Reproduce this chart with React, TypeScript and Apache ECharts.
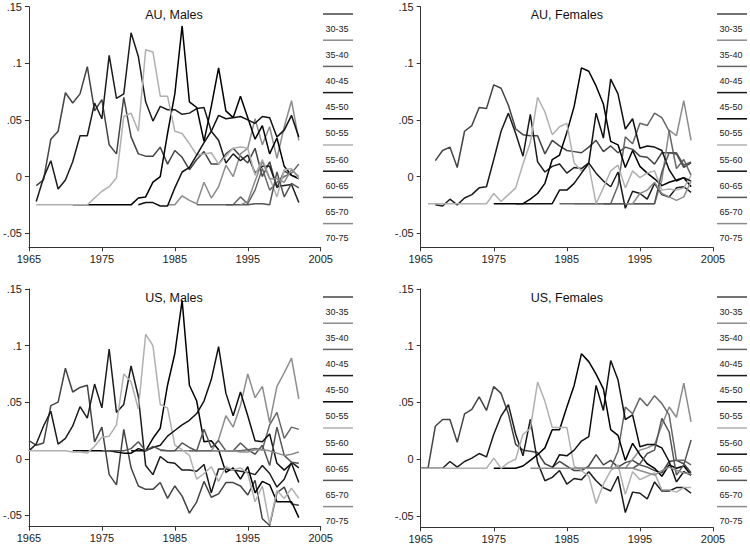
import { useEffect, useRef } from "react";
import * as echarts from "echarts";

// ---------- labels & styles ----------
const AGE_GROUPS = ["30-35", "35-40", "40-45", "45-50", "50-55", "55-60", "60-65", "65-70", "70-75"];
const LINE_COLORS = ["#444444", "#8c8c8c", "#666666", "#1c1c1c", "#000000", "#b0b0b0", "#111111", "#555555", "#8c8c8c"];
const PANEL_TITLES = ["AU, Males", "AU, Females", "US, Males", "US, Females"];
const X_MIN = 1965;
const X_MAX = 2005;
const X_STEP = 10;
const Y_TICKS = [-0.05, 0, 0.05, 0.1, 0.15];

// ---------- AU, Males (first year, then yearly values) ----------
const AUM_START = [1966, 1984, 1988, 1966, 1971, 1966, 1980, 1992, 1994];
const AUM_30_35 = [-0.008, -0.003, 0.033, 0.040, 0.074, 0.065, 0.073, 0.097, 0.058, 0.068, 0.028, 0.020, 0.070, 0.035, 0.020, 0.018, 0.018, 0.026, 0.011, 0.023, 0.017, 0.006, 0.015, 0.022, 0.011, 0.011, 0.020, 0.025, 0.018, 0.012, 0.025, 0.000, 0.013, -0.010, 0.005, 0.001, -0.001];
const AUM_35_40 = [-0.025, -0.025, -0.017, -0.021, -0.024, -0.005, -0.019, -0.009, 0.010, 0.000, 0.020, 0.025, 0.051, 0.028, 0.044, 0.016, 0.044, 0.067, 0.032];
const AUM_40_45 = [-0.025, -0.025, -0.025, -0.025, -0.025, -0.025, -0.018, -0.024, -0.012, 0.007, -0.012, -0.005, 0.000, 0.003, 0.011];
const AUM_45_50 = [-0.022, -0.001, 0.014, -0.011, -0.003, 0.013, 0.036, 0.036, 0.065, 0.051, 0.107, 0.069, 0.073, 0.127, 0.106, 0.066, 0.049, 0.062, 0.059, 0.059, 0.055, 0.056, 0.060, 0.061, 0.040, 0.032, 0.012, 0.020, 0.014, 0.019, 0.003, 0.009, 0.009, -0.009, -0.008, -0.007, -0.023];
const AUM_50_55 = [-0.025, -0.025, -0.025, -0.025, -0.025, -0.025, -0.025, -0.025, -0.025, -0.019, -0.018, -0.005, 0.000, 0.038, 0.073, 0.133, 0.066, 0.061, 0.031, 0.062, 0.096, 0.058, 0.052, 0.071, 0.052, 0.033, 0.045, 0.020, 0.034, 0.009, 0.001, -0.002];
const AUM_55_60 = [-0.025, -0.025, -0.025, -0.025, -0.025, -0.025, -0.025, -0.025, -0.019, -0.013, -0.009, -0.001, 0.053, 0.056, 0.040, 0.112, 0.110, 0.071, 0.071, 0.040, 0.038, 0.029, 0.019, 0.020, 0.021, 0.011, 0.018, 0.025, 0.026, 0.025, 0.001, 0.015, -0.001, -0.018, 0.006, 0.007, -0.002];
const AUM_60_65 = [-0.025, -0.023, -0.023, -0.026, -0.026, -0.010, 0.004, 0.008, 0.019, 0.030, 0.040, 0.054, 0.051, 0.052, 0.053, 0.050, 0.047, 0.053, 0.052, 0.035, 0.041, 0.054, 0.035];
const AUM_65_70 = [-0.025, -0.025, -0.025, -0.025, -0.024, -0.024, -0.025, 0.004, -0.018, -0.006, -0.010];
const AUM_70_75 = [-0.025, -0.022, -0.004, 0.013, -0.002, -0.002, -0.005, 0.006, 0.000];

// ---------- AU, Females ----------
const AUF_START = [1967, 1986, 1984, 1967, 1975, 1966, 1978, 1990, 1993];
const AUF_30_35 = [0.014, 0.023, 0.026, 0.008, 0.040, 0.045, 0.061, 0.060, 0.081, 0.078, 0.063, 0.042, 0.037, 0.036, 0.036, 0.020, 0.032, 0.027, 0.023, 0.022, 0.021, 0.026, 0.032, 0.022, 0.027, 0.021, 0.026, 0.024, 0.018, 0.017, 0.011, 0.021, 0.021, 0.020, 0.008, 0.012];
const AUF_35_40 = [-0.024, -0.024, -0.024, -0.024, -0.024, -0.024, -0.024, -0.024, -0.024, -0.024, -0.024, -0.024, -0.003, 0.041, 0.036, 0.067, 0.032];
const AUF_40_45 = [-0.024, -0.024, -0.024, -0.024, -0.024, -0.024, -0.024, -0.024, -0.008, 0.035, 0.029, 0.047, 0.045, 0.056, 0.052, 0.040, 0.007, 0.015, 0.001];
const AUF_45_50 = [-0.025, -0.026, -0.020, -0.025, -0.019, -0.016, -0.010, -0.009, 0.015, 0.040, 0.056, 0.038, 0.018, 0.055, 0.013, 0.004, 0.009, 0.011, 0.003, 0.008, 0.007, 0.012, 0.003, -0.004, -0.009, 0.004, -0.028, -0.013, -0.015, -0.020, -0.006, -0.016, -0.018, -0.010, -0.009, -0.014];
const AUF_50_55 = [-0.024, -0.024, -0.024, -0.024, -0.024, -0.020, -0.015, -0.006, 0.015, 0.019, 0.039, 0.062, 0.096, 0.093, 0.080, 0.064, 0.031, 0.028, 0.008, 0.023, 0.009, 0.003, -0.002, -0.008, -0.005, -0.003, -0.001, -0.009];
const AUF_55_60 = [-0.024, -0.024, -0.024, -0.024, -0.024, -0.024, -0.024, -0.024, -0.024, -0.015, -0.022, -0.016, -0.010, 0.011, 0.030, 0.070, 0.057, 0.037, 0.044, 0.047, 0.012, 0.005, 0.010, -0.024, -0.010, 0.005, 0.010, -0.010, 0.005, -0.001, 0.003, 0.005, -0.012, -0.011, -0.012, -0.010, 0.001];
const AUF_60_65 = [-0.024, -0.024, -0.024, -0.024, -0.024, -0.024, -0.012, -0.012, -0.006, 0.003, 0.012, 0.056, 0.034, 0.086, 0.073, 0.042, 0.051, 0.025, 0.027, 0.026, 0.023, 0.006, -0.004, -0.001, -0.004];
const AUF_65_70 = [-0.024, -0.024, -0.024, -0.024, -0.024, -0.024, -0.024, -0.024, 0.004, 0.021, 0.021, 0.010, 0.013];
const AUF_70_75 = [-0.024, -0.024, -0.015, -0.012, -0.005, -0.015, -0.018, -0.021, -0.018, -0.004];

// ---------- US, Males ----------
const USM_START = [1965, 1983, 1987, 1965, 1971, 1965, 1979, 1975, 1990];
const USM_30_35 = [0.016, 0.012, 0.014, 0.047, 0.050, 0.080, 0.059, 0.063, 0.065, 0.015, 0.028, -0.014, -0.023, 0.026, -0.008, -0.024, -0.027, -0.027, -0.021, -0.035, -0.024, -0.033, -0.048, -0.038, -0.020, -0.034, -0.031, -0.021, -0.021, -0.024, -0.032, -0.019, -0.053, -0.059, -0.030, -0.025, -0.040, -0.041];
const USM_35_40 = [0.007, 0.007, 0.007, 0.007, 0.007, 0.007, 0.007, 0.007, 0.017, 0.038, 0.028, 0.047, 0.075, 0.054, 0.064, 0.032, 0.064, 0.076, 0.089, 0.053];
const USM_40_45 = [0.007, 0.007, 0.007, 0.007, 0.007, 0.007, 0.007, 0.007, 0.008, 0.009, 0.008, 0.030, 0.041, 0.018, 0.028, 0.026];
const USM_45_50 = [0.007, 0.013, 0.029, 0.042, 0.013, 0.018, 0.029, 0.046, 0.036, 0.066, 0.045, 0.097, 0.041, 0.048, 0.082, 0.055, -0.006, -0.014, 0.002, -0.003, -0.004, -0.010, -0.010, -0.011, -0.005, -0.030, -0.009, -0.009, -0.010, -0.011, -0.012, -0.014, -0.006, -0.013, -0.025, -0.018, -0.003, -0.008];
const USM_50_55 = [0.007, 0.007, 0.007, 0.007, 0.007, 0.007, 0.006, 0.005, 0.005, 0.009, 0.007, 0.018, 0.027, 0.065, 0.093, 0.140, 0.065, 0.051, 0.015, 0.016, 0.008, -0.012, -0.008, -0.018, -0.007, -0.030, -0.020, -0.023, -0.038, -0.038, -0.038, -0.052];
const USM_55_60 = [0.007, 0.007, 0.007, 0.007, 0.007, 0.007, 0.006, 0.006, 0.005, 0.011, 0.019, 0.020, 0.030, 0.075, 0.068, 0.044, 0.110, 0.100, 0.048, 0.045, 0.012, 0.008, 0.003, -0.018, -0.013, -0.007, -0.020, -0.007, -0.010, -0.008, -0.013, -0.038, -0.024, -0.058, -0.028, -0.035, -0.026, -0.035];
const USM_60_65 = [0.007, 0.007, 0.007, 0.010, 0.012, 0.020, 0.025, 0.030, 0.034, 0.040, 0.051, 0.070, 0.099, 0.058, 0.038, 0.059, 0.038, 0.016, 0.015, 0.022, -0.004, -0.010, -0.004, -0.021];
const USM_65_70 = [0.007, 0.007, 0.007, 0.007, 0.009, 0.015, 0.007, 0.011, 0.008, 0.007, 0.007, 0.014, 0.010, 0.007, 0.026, 0.010, 0.016, 0.007, 0.007, 0.014, 0.008, 0.004, 0.012, -0.006, 0.028, 0.003, -0.003, -0.004];
const USM_70_75 = [0.007, 0.007, 0.007, 0.007, 0.006, 0.006, 0.008, 0.008, 0.007, 0.005, 0.003, 0.004, 0.006];

// ---------- US, Females ----------
const USF_START = [1965, 1988, 1986, 1965, 1975, 1965, 1983, 1992, 1980];
const USF_30_35 = [-0.008, -0.008, 0.029, 0.035, 0.035, 0.015, 0.040, 0.044, 0.055, 0.043, 0.064, 0.058, 0.040, 0.013, 0.008, 0.007, 0.006, -0.004, -0.007, -0.002, -0.006, -0.010, -0.010, -0.006, 0.004, -0.005, -0.001, -0.007, -0.003, -0.001, -0.005, -0.007, -0.010, -0.012, -0.002, -0.001, -0.004, -0.012];
const USF_35_40 = [-0.008, -0.008, -0.008, -0.008, -0.008, -0.008, 0.000, 0.008, 0.010, 0.013, 0.030, 0.046, 0.037, 0.067, 0.033];
const USF_40_45 = [-0.008, -0.008, -0.008, -0.008, -0.008, -0.008, 0.007, 0.046, 0.040, 0.054, 0.047, 0.056, 0.049, 0.039, -0.001, -0.001, -0.005];
const USF_45_50 = [-0.008, -0.008, -0.008, -0.008, -0.002, -0.007, -0.002, 0.001, 0.005, 0.002, 0.022, 0.038, 0.048, 0.022, 0.003, 0.035, -0.003, -0.019, -0.016, -0.010, -0.022, -0.017, -0.018, -0.011, -0.019, -0.025, -0.028, -0.015, -0.047, -0.029, -0.030, -0.035, -0.020, -0.028, -0.028, -0.025, -0.025, -0.030];
const USF_50_55 = [-0.008, -0.008, -0.008, -0.008, -0.006, -0.001, 0.004, 0.010, 0.026, 0.026, 0.046, 0.065, 0.093, 0.086, 0.075, 0.062, 0.026, 0.021, -0.001, 0.014, 0.004, -0.004, -0.008, -0.015, -0.005, -0.008, -0.006, -0.014];
const USF_55_60 = [-0.008, -0.008, -0.008, -0.008, -0.008, -0.008, -0.008, -0.008, -0.008, -0.008, 0.001, -0.008, -0.003, 0.000, 0.022, 0.027, 0.068, 0.051, 0.028, 0.028, 0.028, -0.006, -0.010, -0.015, -0.039, -0.022, -0.010, -0.005, -0.031, -0.011, -0.018, -0.015, -0.012, -0.027, -0.027, -0.029, -0.025, -0.025];
const USF_60_65 = [-0.008, 0.004, 0.003, 0.008, 0.016, 0.020, 0.065, 0.043, 0.087, 0.070, 0.035, 0.039, 0.011, 0.013, 0.013, 0.010, -0.002, -0.020, -0.011, -0.014];
const USF_65_70 = [-0.008, -0.008, -0.008, -0.004, 0.005, 0.008, 0.036, 0.024, -0.014, -0.005, 0.017];
const USF_70_75 = [-0.008, -0.008, -0.008, -0.008, -0.008, -0.008, -0.008, -0.008, -0.008, -0.008, -0.008, -0.008, -0.008, -0.008, -0.008, -0.010, -0.012, -0.014, -0.010, -0.007, -0.010, -0.012, -0.013];

const PANEL_STARTS = [AUM_START, AUF_START, USM_START, USF_START];
const PANEL_VALUES = [
  [AUM_30_35, AUM_35_40, AUM_40_45, AUM_45_50, AUM_50_55, AUM_55_60, AUM_60_65, AUM_65_70, AUM_70_75],
  [AUF_30_35, AUF_35_40, AUF_40_45, AUF_45_50, AUF_50_55, AUF_55_60, AUF_60_65, AUF_65_70, AUF_70_75],
  [USM_30_35, USM_35_40, USM_40_45, USM_45_50, USM_50_55, USM_55_60, USM_60_65, USM_65_70, USM_70_75],
  [USF_30_35, USF_35_40, USF_40_45, USF_45_50, USF_50_55, USF_55_60, USF_60_65, USF_65_70, USF_70_75],
];
const PANEL_YMIN = [-0.0625, -0.0625, -0.06, -0.06];

// ---------- layout ----------
const LAYOUT = [
  { left: 27.3, top: 6.7, width: 293.4, height: 240.6, legendX: 323, legendY: 14 },
  { left: 420.7, top: 6.7, width: 292.3, height: 240.6, legendX: 717, legendY: 14 },
  { left: 27.3, top: 289, width: 293.4, height: 237.7, legendX: 323, legendY: 297 },
  { left: 420.7, top: 289, width: 292.3, height: 238.3, legendX: 717, legendY: 297 },
];
const TITLE_Y = [15, 15, 297.7, 297.7];
const LEGEND_STEP = 26.2;
const FONT = "'Liberation Sans', Arial, sans-serif";

function fmtY(v: number) {
  if (Math.abs(v) < 1e-9) return "0";
  const s = String(Math.round(Math.abs(v) * 100) / 100).replace(/^0/, "");
  return (v < 0 ? "-" : "") + s;
}

export default function App() {
  const ref = useRef<HTMLDivElement>(null);
  useEffect(() => {
    if (!ref.current) return;
    const chart = echarts.init(ref.current, undefined, { renderer: "svg" });

    const grid: any[] = [];
    const xAxis: any[] = [];
    const yAxis: any[] = [];
    const series: any[] = [];
    const graphic: any[] = [];

    LAYOUT.forEach((L, p) => {
      grid.push({ left: L.left, top: L.top, width: L.width, height: L.height, containLabel: false });
      xAxis.push({
        type: "value",
        gridIndex: p,
        min: X_MIN,
        max: X_MAX,
        interval: X_STEP,
        splitLine: { show: false },
        axisLine: { show: true, onZero: false, lineStyle: { color: "#333", width: 1 } },
        axisTick: { show: true, length: 4, lineStyle: { color: "#333" } },
        axisLabel: { color: "#222", fontSize: 11, fontFamily: FONT, margin: 6, formatter: (v: number) => String(v) },
      });
      yAxis.push({
        type: "value",
        gridIndex: p,
        min: PANEL_YMIN[p],
        max: 0.15,
        splitLine: { show: false },
        axisLine: { show: true, onZero: false, lineStyle: { color: "#333", width: 1 } },
        axisTick: { show: true, length: 4, customValues: Y_TICKS, lineStyle: { color: "#333" } },
        axisLabel: { color: "#222", fontSize: 11, fontFamily: FONT, margin: 7, customValues: Y_TICKS, formatter: fmtY },
      });

      PANEL_VALUES[p].forEach((vals, i) => {
        const start = PANEL_STARTS[p][i];
        series.push({
          type: "line",
          name: AGE_GROUPS[i],
          xAxisIndex: p,
          yAxisIndex: p,
          data: vals.map((v, k) => [start + k, v]),
          symbol: "none",
          showSymbol: false,
          silent: true,
          lineStyle: { color: LINE_COLORS[i], width: 1.5 },
          itemStyle: { color: LINE_COLORS[i] },
        });
      });

      graphic.push({
        type: "text",
        x: L.left + L.width / 2,
        y: TITLE_Y[p],
        style: { text: PANEL_TITLES[p], fill: "#111", fontSize: 12.5, fontFamily: FONT, align: "center", verticalAlign: "middle" },
        z: 10,
      });

      AGE_GROUPS.forEach((g, i) => {
        const ly = L.legendY + i * LEGEND_STEP;
        graphic.push({
          type: "line",
          shape: { x1: L.legendX, y1: ly, x2: L.legendX + 30, y2: ly },
          style: { stroke: LINE_COLORS[i], lineWidth: 1.5 },
        });
        graphic.push({
          type: "text",
          x: L.legendX + 2.5,
          y: ly + 14.5,
          style: { text: g, fill: "#222", fontSize: 9, fontFamily: FONT, align: "left", verticalAlign: "middle" },
        });
      });
    });

    chart.setOption({
      animation: false,
      backgroundColor: "#ffffff",
      grid,
      xAxis,
      yAxis,
      series,
      graphic,
    });
    return () => chart.dispose();
  }, []);

  return <div ref={ref} style={{ position: "absolute", left: 0, top: 0, width: 750, height: 548 }} />;
}
